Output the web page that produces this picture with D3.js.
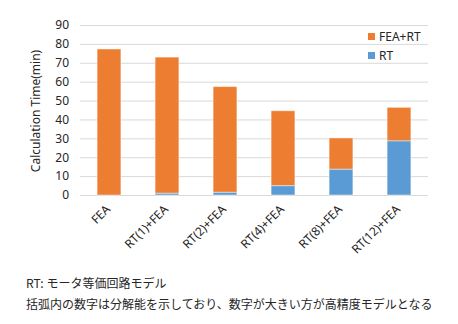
<!DOCTYPE html>
<html>
<head>
<meta charset="utf-8">
<script src="https://cdn.jsdelivr.net/npm/d3@7"></script>
<style>
  html, body { margin: 0; padding: 0; background: #fff; }
  svg text { font-family: "Noto Sans", "Noto Sans CJK JP", sans-serif; fill: #262626; }
  .note { font-family: "Noto Sans CJK JP", sans-serif; }
</style>
</head>
<body>
<svg id="chart" width="458" height="324"></svg>
<script>
// Calculation time per model configuration (minutes)
const categories = ["FEA", "RT(1)+FEA", "RT(2)+FEA", "RT(4)+FEA", "RT(8)+FEA", "RT(12)+FEA"];
const rtTime = [0, 0.9, 1.4, 4.9, 13.6, 28.6];        // RT part (blue)
const totalTime = [77.3, 73, 57.4, 44.6, 30.2, 46.4];   // FEA+RT total (top of bar)
const yTicks = [0, 10, 20, 30, 40, 50, 60, 70, 80, 90];
const seriesNames = ["FEA+RT", "RT"];
const colors = { "FEA+RT": "#ED7D31", "RT": "#5B9BD5" };
const notes = ["RT: モータ等価回路モデル", "括弧内の数字は分解能を示しており、数字が大きい方が高精度モデルとなる"];

const svg = d3.select("#chart");
const margin = { left: 80, right: 30, top: 25, bottom: 129 };
const W = 458, H = 324;
const x = d3.scaleBand().domain(categories).range([margin.left, W - margin.right]).paddingInner(0.59).paddingOuter(0.295);
const y = d3.scaleLinear().domain([0, 90]).range([H - margin.bottom, margin.top]);

// Horizontal gridlines
svg.append("g").selectAll("line").data(yTicks).join("line")
  .attr("x1", margin.left).attr("x2", W - margin.right)
  .attr("y1", d => y(d) + 0.5).attr("y2", d => y(d) + 0.5)
  .attr("stroke", "#d9d9d9").attr("stroke-width", 1);

// Y axis labels
const yAxis = d3.axisLeft(y).tickValues(yTicks).tickSize(0).tickPadding(0);
svg.append("g").attr("transform", `translate(${margin.left - 11},0)`).call(yAxis)
  .call(g => g.select(".domain").remove())
  .call(g => g.selectAll("text").attr("font-size", 12).attr("fill", "#262626")
    .style("font-family", "'Noto Sans', sans-serif"));

// Stacked bars: RT at the bottom, remaining time on top
const stack = categories.map((c, i) => ({ c, rt: rtTime[i], total: totalTime[i] }));
const bars = svg.append("g");
bars.selectAll("rect.top").data(stack).join("rect").attr("class", "top")
  .attr("x", d => x(d.c)).attr("width", x.bandwidth())
  .attr("y", d => y(d.total)).attr("height", d => y(d.rt) - y(d.total))
  .attr("fill", colors["FEA+RT"]).attr("stroke", "#fff").attr("stroke-opacity", 0.45).attr("stroke-width", 1);
bars.selectAll("rect.rt").data(stack.filter(d => d.rt > 0)).join("rect").attr("class", "rt")
  .attr("x", d => x(d.c)).attr("width", x.bandwidth())
  .attr("y", d => y(d.rt)).attr("height", d => y(0) - y(d.rt))
  .attr("fill", colors["RT"]).attr("stroke", "#fff").attr("stroke-opacity", 0.45).attr("stroke-width", 1);

// X axis category labels, rotated
const xAxis = d3.axisBottom(x).tickSize(0).tickPadding(0);
svg.append("g").attr("transform", `translate(0,${y(0)})`).call(xAxis)
  .call(g => g.select(".domain").remove())
  .call(g => g.selectAll("text")
    .attr("font-size", 12).attr("fill", "#262626")
    .style("font-family", "'Noto Sans', sans-serif")
    .attr("text-anchor", "end")
    .attr("dy", 0).attr("y", 0)
    .attr("transform", "translate(2,15) rotate(-45)"));

// Y axis title
svg.append("text")
  .attr("transform", `translate(40,${(margin.top + H - margin.bottom) / 2 + 1}) rotate(-90)`)
  .attr("text-anchor", "middle").attr("font-size", 12).text("Calculation Time(min)");

// Legend
const legend = svg.append("g").attr("transform", "translate(368,33)");
seriesNames.forEach((s, i) => {
  const g = legend.append("g").attr("transform", `translate(0,${i * 19})`);
  g.append("rect").attr("width", 7).attr("height", 7).attr("fill", colors[s]);
  g.append("text").attr("x", 11).attr("y", 8).attr("font-size", 12).text(s);
});

// Footnotes
notes.forEach((t, i) => {
  svg.append("text").attr("class", "note").attr("x", 26).attr("y", 288 + i * 21)
    .attr("font-size", 12).style("font-family", "'Noto Sans CJK JP', sans-serif").text(t);
});
</script>
</body>
</html>
